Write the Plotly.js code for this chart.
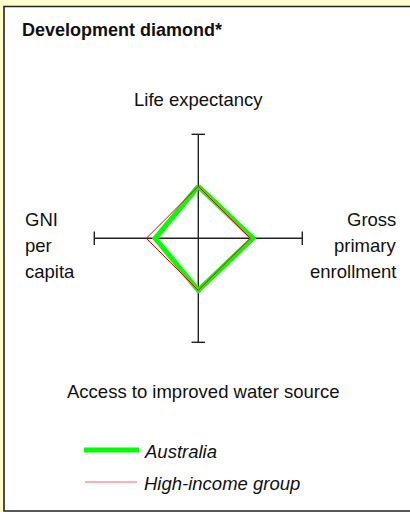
<!DOCTYPE html>
<html>
<head>
<meta charset="utf-8">
<script src="https://cdn.plot.ly/plotly-3.0.1.min.js"></script>
<style>html,body{margin:0;padding:0;background:#FFFFCC;}#chart{width:410px;height:512px;}</style>
</head>
<body>
<div id="chart"></div>
<script>
// Indicators (clockwise from top): Life expectancy, Gross primary enrollment, Water access, GNI per capita
var categories = ["Life expectancy", "Gross primary enrollment", "Access to improved water source", "GNI per capita"];
var australia = [1.00, 1.05, 1.00, 0.83];
var highIncome = [1.00, 1.00, 1.00, 1.00];
var seriesNames = ["Australia", "High-income group"];
var axisExtent = 2;

var W = 410, H = 512;
var cx = 198.3, cy = 238.3, unit = 52;
function px(x){ return x / W; }
function py(y){ return 1 - y / H; }

function diamond(v){
  return {
    x: [0, v[1], 0, -v[3], 0],
    y: [v[0], 0, -v[2], 0, v[0]]
  };
}

var axisColor = '#222';
var capLen = 0.13;
var traces = [];
// axes
traces.push({x:[-axisExtent, axisExtent], y:[0,0], mode:'lines', line:{color:axisColor, width:1.4}, hoverinfo:'skip', showlegend:false});
traces.push({x:[0,0], y:[-axisExtent, axisExtent], mode:'lines', line:{color:axisColor, width:1.4}, hoverinfo:'skip', showlegend:false});
// end caps
[[-axisExtent,0,'v'],[axisExtent,0,'v'],[0,-axisExtent,'h'],[0,axisExtent,'h']].forEach(function(c){
  var t = c[2]==='v' ? {x:[c[0],c[0]], y:[-capLen,capLen]} : {x:[-capLen,capLen], y:[c[1],c[1]]};
  traces.push({x:t.x, y:t.y, mode:'lines', line:{color:axisColor, width:1.4}, hoverinfo:'skip', showlegend:false});
});
var dA = diamond(australia), dH = diamond(highIncome);
traces.push({x:dA.x, y:dA.y, mode:'lines', name:seriesNames[0], line:{color:'#00FF00', width:5}, showlegend:false});
traces.push({x:dH.x, y:dH.y, mode:'lines', name:seriesNames[1], line:{color:'#FF0000', width:1}, showlegend:false});

var font = {family:'"Liberation Sans", Arial, sans-serif', size:18.5, color:'#111'};
function ann(text, x, y, xanchor, extra){
  var a = {text:text, xref:'paper', yref:'paper', x:px(x), y:py(y), xanchor:xanchor, yanchor:'middle', showarrow:false, font:Object.assign({}, font)};
  if(extra) Object.assign(a.font, extra);
  return a;
}
var gniLines = ["GNI", "per", "capita"];
var enrLines = categories[1].split(' ');
var annotations = [
  ann('<b>Development diamond*</b>', 20, 30, 'left', {size:18}),
  ann(categories[0], 198, 99, 'center'),
  ann(categories[2], 203, 391, 'center'),
  ann(gniLines[0], 23, 219, 'left'),
  ann(gniLines[1], 23, 245, 'left'),
  ann(gniLines[2], 23, 271, 'left'),
  ann(enrLines[0], 398, 219, 'right'),
  ann(enrLines[1], 398, 245, 'right'),
  ann(enrLines[2], 398, 271, 'right'),
  ann(seriesNames[0], 142, 451, 'left', {style:'italic'}),
  ann(seriesNames[1], 142, 483, 'left', {style:'italic'})
];

var shapes = [
  {type:'rect', xref:'paper', yref:'paper', x0:px(4), x1:px(420), y0:py(511), y1:py(6.5), fillcolor:'#FFFFFF', line:{color:'#222', width:1.6}, layer:'below'},
  {type:'line', xref:'paper', yref:'paper', x0:px(84), x1:px(139), y0:py(450), y1:py(450), line:{color:'#00FF00', width:5}},
  {type:'line', xref:'paper', yref:'paper', x0:px(85), x1:px(137), y0:py(482), y1:py(482), line:{color:'#FF6060', width:1.2}}
];

var layout = {
  width: W, height: H,
  margin:{l:0,r:0,t:0,b:0},
  paper_bgcolor:'#FFFFCC',
  plot_bgcolor:'rgba(0,0,0,0)',
  showlegend:false,
  xaxis:{range:[-cx/unit, (W-cx)/unit], visible:false, fixedrange:true},
  yaxis:{range:[(cy-H)/unit, cy/unit], visible:false, fixedrange:true},
  annotations: annotations,
  shapes: shapes
};
Plotly.newPlot('chart', traces, layout, {staticPlot:true, displayModeBar:false});
</script>
</body>
</html>
